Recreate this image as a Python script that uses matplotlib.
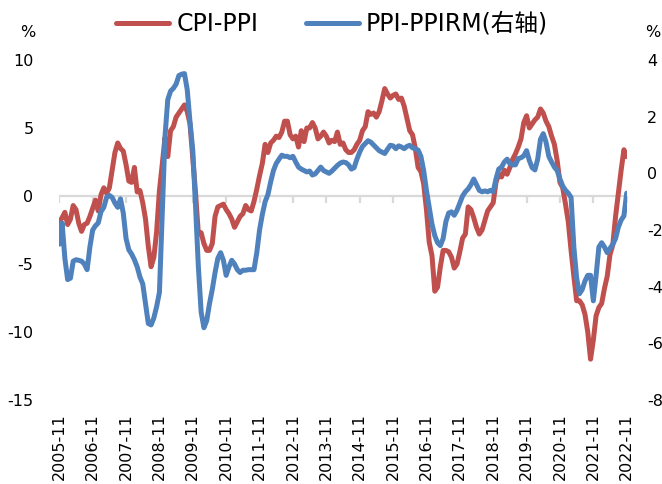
import numpy as np
import matplotlib
matplotlib.use("Agg")
import matplotlib.pyplot as plt

plt.rcParams['font.family'] = ['DejaVu Sans', 'Noto Sans CJK SC']

# ---------------------------------------------------------------
# Data (monthly, 2005-11 .. 2022-11)
# ---------------------------------------------------------------
# CPI-PPI, left axis (%)
cpi_ppi = [
    -1.9, -1.6,
    -1.2, -2.1, -1.7, -0.7, -1.0, -2.0, -2.6, -2.1, -2.0, -1.5, -0.9, -0.3,   # 2006
    -1.1, 0.1, 0.6, 0.2, 0.6, 1.9, 3.2, 3.9, 3.5, 3.3, 2.3, 1.1,              # 2007
    1.0, 2.1, 0.3, 0.4, -0.5, -1.7, -3.7, -5.2, -4.5, -2.6, 0.4, 2.3,         # 2008
    4.3, 2.9, 4.8, 5.1, 5.8, 6.1, 6.4, 6.7, 6.2, 5.3, 2.7, 0.2,               # 2009
    -2.8, -2.7, -3.5, -4.0, -4.0, -3.5, -1.5, -0.8, -0.7, -0.6, -1.0, -1.3,   # 2010
    -1.7, -2.3, -1.9, -1.5, -1.3, -0.7, -1.0, -1.1, -0.4, 0.5, 1.5, 2.4,      # 2011
    3.8, 3.2, 3.9, 4.1, 4.4, 4.3, 4.7, 5.5, 5.5, 4.5, 4.2, 4.4,               # 2012
    3.6, 4.8, 4.0, 5.0, 5.0, 5.4, 5.0, 4.2, 4.4, 4.7, 4.4, 3.9,               # 2013
    4.1, 4.0, 4.7, 3.8, 3.9, 3.4, 3.2, 3.2, 3.4, 3.8, 4.1, 4.8,               # 2014
    5.1, 6.2, 6.0, 6.1, 5.8, 6.2, 7.0, 7.9, 7.5, 7.2, 7.4, 7.5,               # 2015
    7.1, 7.2, 6.6, 5.7, 4.8, 4.5, 3.5, 2.1, 1.8, 0.9, -1.0, -3.4,             # 2016
    -4.4, -7.0, -6.7, -5.2, -4.0, -4.0, -4.1, -4.5, -5.3, -5.0, -4.1, -3.1,   # 2017
    -2.8, -0.8, -1.0, -1.6, -2.3, -2.8, -2.5, -1.8, -1.1, -0.8, -0.5, 1.0,    # 2018
    1.6, 1.4, 1.9, 1.6, 2.1, 2.7, 3.1, 3.6, 4.2, 5.4, 5.9, 5.0,               # 2019
    5.3, 5.6, 5.8, 6.4, 6.1, 5.5, 5.1, 4.4, 3.8, 2.6, 1.0, 0.6,               # 2020
    -0.6, -1.9, -4.0, -5.9, -7.7, -7.7, -8.0, -8.7, -10.0, -12.0, -10.6, -8.8,  # 2021
    -8.2, -7.9, -6.8, -5.9, -4.3, -3.6, -1.5, 0.2, 1.9, 3.4, 2.9,             # 2022
]

# PPI-PPIRM, right axis (%)
ppi_ppirm = [
    -2.5, -1.75,
    -3.0, -3.75, -3.7, -3.1, -3.05, -3.07, -3.1, -3.2, -3.4, -2.6, -2.0, -1.85,      # 2006
    -1.75, -1.35, -1.2, -0.85, -0.78, -0.85, -1.05, -1.2, -0.9, -1.4, -2.3, -2.7,    # 2007
    -2.85, -3.05, -3.3, -3.66, -3.9, -4.6, -5.3, -5.35, -5.1, -4.7, -4.2, -1.5,      # 2008
    1.3, 2.6, 2.9, 3.0, 3.15, 3.45, 3.5, 3.52, 2.95, 1.8, 0.8, -1.2,                 # 2009
    -3.3, -4.9, -5.45, -5.2, -4.6, -4.1, -3.5, -3.0, -2.8, -3.07, -3.6, -3.3,        # 2010
    -3.07, -3.2, -3.4, -3.5, -3.42, -3.42, -3.4, -3.4, -3.4, -2.8, -2.0, -1.45,      # 2011
    -1.0, -0.75, -0.3, 0.1, 0.35, 0.5, 0.64, 0.6, 0.6, 0.55, 0.6, 0.4,               # 2012
    0.22, 0.15, 0.1, 0.05, 0.08, -0.06, -0.02, 0.1, 0.22, 0.1, 0.05, 0.0,            # 2013
    0.08, 0.18, 0.28, 0.36, 0.4, 0.38, 0.3, 0.15, 0.2, 0.5, 0.75, 0.95,              # 2014
    1.05, 1.15, 1.1, 1.0, 0.9, 0.8, 0.75, 0.7, 0.85, 0.99, 0.97, 0.87,               # 2015
    0.97, 0.93, 0.87, 0.95, 0.99, 0.9, 0.87, 0.82, 0.6, 0.1, -0.6, -1.2,             # 2016
    -1.8, -2.2, -2.45, -2.55, -2.3, -1.7, -1.4, -1.36, -1.48, -1.3, -1.05, -0.8,     # 2017
    -0.65, -0.55, -0.4, -0.2, -0.4, -0.6, -0.65, -0.62, -0.65, -0.6, -0.65, -0.2,    # 2018
    0.15, 0.22, 0.4, 0.5, 0.34, 0.3, 0.3, 0.52, 0.55, 0.62, 0.8, 0.45,               # 2019
    0.2, 0.12, 0.5, 1.2, 1.4, 1.1, 0.6, 0.4, 0.22, 0.1, -0.2, -0.45,                 # 2020
    -0.6, -0.7, -0.85, -2.6, -3.7, -4.25, -4.1, -3.8, -3.6, -3.6, -4.5, -3.6,        # 2021
    -2.6, -2.45, -2.6, -2.8, -2.65, -2.5, -2.3, -1.9, -1.65, -1.5, -0.7,             # 2022
]

tick_labels = ['2005-11', '2006-11', '2007-11', '2008-11', '2009-11', '2010-11',
               '2011-11', '2012-11', '2013-11', '2014-11', '2015-11', '2016-11',
               '2017-11', '2018-11', '2019-11', '2020-11', '2021-11', '2022-11']
left_ticks = [10, 5, 0, -5, -10, -15]
right_ticks = [4, 2, 0, -2, -4, -6, -8]

series_names = ['CPI-PPI', 'PPI-PPIRM(右轴)']

RED = '#C0504D'
BLUE = '#4F81BD'
GRID = '#D9D9D9'
LW = 3.6

# ---------------------------------------------------------------
# Figure
# ---------------------------------------------------------------
W, H = 662, 484
fig = plt.figure(figsize=(W / 100, H / 100), dpi=100)
ax = fig.add_axes([59.3 / W, 1 - 400 / H, 567.4 / W, 340 / H])
ax2 = ax.twinx()

x = np.arange(len(cpi_ppi))
tick_pos = x[::12]

# zero line with small downward tick marks
ax.axhline(0, color=GRID, lw=1.6, zorder=0)
ax.plot(tick_pos, np.zeros(len(tick_pos)), ls='none', marker=3,
        ms=5, mew=1.6, color=GRID, zorder=1)

l1, = ax.plot(x, cpi_ppi, color=RED, lw=LW,
              solid_joinstyle='round', solid_capstyle='round', zorder=3)
l2, = ax2.plot(x, ppi_ppirm, color=BLUE, lw=LW,
               solid_joinstyle='round', solid_capstyle='round', zorder=3)

ax.set_xlim(0, len(cpi_ppi) - 1)
ax.set_ylim(-15, 10)
ax2.set_ylim(-8, 4)

for a in (ax, ax2):
    for s in a.spines.values():
        s.set_visible(False)

ax.set_xticks(tick_pos)
ax.set_xticklabels(tick_labels, rotation=90, fontsize=11.5)
ax.tick_params(axis='x', length=0, pad=9.5)

ax.set_yticks(left_ticks)
ax.set_yticklabels([str(v) for v in left_ticks], fontsize=11.5)
ax.tick_params(axis='y', length=0, pad=18.5)

ax2.set_yticks(right_ticks)
ax2.set_yticklabels([str(v) for v in right_ticks], fontsize=11.5)
ax2.tick_params(axis='y', length=0, pad=14.5)

fig.text(28 / W, 1 - 33 / H, '%', ha='center', va='center', fontsize=11.5)
fig.text(645 / W, 1 - 33 / H, '%', ha='left', va='center', fontsize=11.5)

fig.legend([l1, l2], series_names, loc='center',
           bbox_to_anchor=(332 / W, 1 - 24 / H), ncol=2, frameon=False,
           fontsize=17, handlelength=2.25, handletextpad=0.3,
           columnspacing=2.0, borderpad=0)

fig.savefig('out.png', dpi=100)
